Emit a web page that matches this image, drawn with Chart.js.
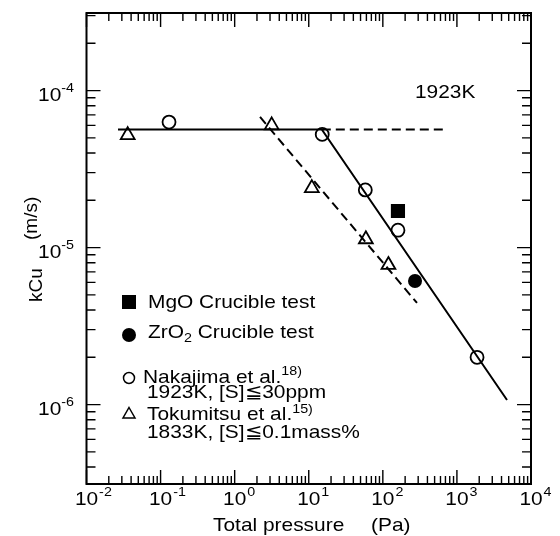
<!DOCTYPE html>
<html>
<head>
<meta charset="utf-8">
<title>kCu vs total pressure</title>
<script src="https://cdn.jsdelivr.net/npm/chart.js@4.4.1/dist/chart.umd.min.js"></script>
<style>
  html, body { margin: 0; padding: 0; background: #fff; }
  #wrap { width: 560px; height: 536px; }
</style>
</head>
<body>
<div id="wrap"><canvas id="chart_k" width="560" height="536"></canvas></div>
<script>
// axis decades (labels are drawn as 10 with a superscript exponent)
const xTicks = [1e-2, 1e-1, 1e0, 1e1, 1e2, 1e3, 1e4];
const xTickExp = ['-2', '-1', '0', '1', '2', '3', '4'];
const yTicks = [1e-4, 1e-5, 1e-6];
const yTickExp = ['-4', '-5', '-6'];

// Nakajima et al., 1923K (open circles)
const nakajimaP = [0.13, 15.2, 58, 160, 1870];
const nakajimaK = [6.3e-5, 5.26e-5, 2.33e-5, 1.29e-5, 2.0e-6];
// Tokumitsu et al., 1833K (open triangles)
const tokumitsuP = [0.036, 3.16, 11, 59, 119];
const tokumitsuK = [5.2e-5, 6.0e-5, 2.39e-5, 1.13e-5, 7.75e-6];
// this work
const mgoP = [160];
const mgoK = [1.71e-5];
const zro2P = [272];
const zro2K = [6.13e-6];

// guide lines
const solidP = [0.0266, 15, 4745];
const solidK = [5.65e-5, 5.65e-5, 1.07e-6];
const flatP = [15, 713];
const flatK = [5.65e-5, 5.65e-5];
const lowP = [2.2, 289];
const lowK = [6.79e-5, 4.44e-6];

const FAM = '"Liberation Sans", Arial, Helvetica, sans-serif';
const SX = 1.1; // glyphs a bit wider than plain Arial

function pts(xs, ys){
  return xs.map((x, i) => ({ x, y: ys[i] }));
}

function runWidth(ctx, runs){
  let w = 0;
  runs.forEach(r => {
    ctx.font = `${r.size}px ${FAM}`;
    w += ctx.measureText(r.t).width * (r.sx ?? SX);
  });
  return w;
}

function drawRuns(ctx, runs, x, y, align){
  const w = runWidth(ctx, runs);
  let cx = align === 'center' ? x - w / 2 : align === 'right' ? x - w : x;
  runs.forEach(r => {
    const sx = r.sx ?? SX;
    ctx.font = `${r.size}px ${FAM}`;
    const rw = ctx.measureText(r.t).width * sx;
    ctx.save();
    ctx.translate(cx, y + (r.dy || 0));
    ctx.scale(sx, 1);
    ctx.fillText(r.t, 0, 0);
    ctx.restore();
    cx += rw;
  });
}

function lineDs(xs, ys, dash){
  return {
    type: 'line',
    data: pts(xs, ys),
    borderColor: '#000',
    borderWidth: 2,
    borderDash: dash || [],
    pointRadius: 0,
    fill: false,
    tension: 0,
  };
}

const frame = {
  id: 'logFrame',
  afterDraw(chart){
    const { ctx, chartArea: a } = chart;
    const xs = chart.scales.x, ys = chart.scales.y;
    ctx.save();
    ctx.strokeStyle = '#000';
    ctx.fillStyle = '#000';
    ctx.textBaseline = 'alphabetic';

    // inward ticks on all four sides
    ctx.lineWidth = 1.4;
    ctx.beginPath();
    for (let d = -2; d <= 4; d++){
      for (let m = 1; m <= 9; m++){
        const v = m * Math.pow(10, d);
        if (v > xs.max * 1.001) break;
        const px = xs.getPixelForValue(v);
        const len = m === 1 ? 14 : 8;
        ctx.moveTo(px, a.bottom); ctx.lineTo(px, a.bottom - len);
        ctx.moveTo(px, a.top); ctx.lineTo(px, a.top + len);
      }
    }
    for (let d = -7; d <= -4; d++){
      for (let m = 1; m <= 9; m++){
        const v = m * Math.pow(10, d);
        if (v < ys.min || v > ys.max) continue;
        const py = ys.getPixelForValue(v);
        const len = m === 1 ? 14 : 9;
        ctx.moveTo(a.left, py); ctx.lineTo(a.left + len, py);
        ctx.moveTo(a.right, py); ctx.lineTo(a.right - len, py);
      }
    }
    ctx.stroke();
    ctx.lineWidth = 2;
    ctx.strokeRect(a.left, a.top, a.right - a.left, a.bottom - a.top);

    // x tick labels
    xTicks.forEach((v, i) => {
      const px = xs.getPixelForValue(v);
      ctx.font = `19px ${FAM}`;
      const w10 = ctx.measureText('10').width * SX;
      drawRuns(ctx, [{ t: '10', size: 19 }], px, 505, 'center');
      drawRuns(ctx, [{ t: xTickExp[i], size: 13 }], px + w10 / 2 + 1, 496, 'left');
    });
    // y tick labels
    yTicks.forEach((v, i) => {
      const py = ys.getPixelForValue(v);
      drawRuns(ctx, [
        { t: '10', size: 19 },
        { t: yTickExp[i], size: 13, dy: -9 },
      ], 74, py + 10, 'right');
    });

    // axis titles
    drawRuns(ctx, [{ t: 'Total pressure', size: 19 }], 213, 531, 'left');
    drawRuns(ctx, [{ t: '(Pa)', size: 19 }], 371, 531, 'left');
    ctx.save();
    ctx.translate(42, 302);
    ctx.rotate(-Math.PI / 2);
    drawRuns(ctx, [{ t: 'kCu', size: 19, sx: 1 }], 0, 0, 'left');
    ctx.restore();
    ctx.save();
    ctx.translate(37, 240);
    ctx.rotate(-Math.PI / 2);
    drawRuns(ctx, [{ t: '(m/s)', size: 19, sx: 1 }], 0, 0, 'left');
    ctx.restore();

    drawRuns(ctx, [{ t: '1923K', size: 19 }], 415, 98, 'left');

    // legend block
    ctx.fillRect(122, 295, 14, 14);
    drawRuns(ctx, [{ t: 'MgO Crucible test', size: 19 }], 148, 308, 'left');

    ctx.beginPath();
    ctx.arc(129, 335, 7, 0, Math.PI * 2);
    ctx.fill();
    drawRuns(ctx, [
      { t: 'ZrO', size: 19 },
      { t: '2', size: 13, dy: 4 },
      { t: ' Crucible test', size: 19 },
    ], 148, 338, 'left');

    ctx.lineWidth = 1.5;
    ctx.beginPath();
    ctx.arc(129, 378, 5.5, 0, Math.PI * 2);
    ctx.stroke();
    drawRuns(ctx, [
      { t: 'Nakajima et al.', size: 19 },
      { t: '18)', size: 13, dy: -8 },
    ], 143, 383, 'left');
    drawRuns(ctx, [{ t: '1923K, [S]≦30ppm', size: 19 }], 147, 398, 'left');

    ctx.beginPath();
    ctx.moveTo(129, 407.5);
    ctx.lineTo(135, 418);
    ctx.lineTo(123, 418);
    ctx.closePath();
    ctx.stroke();
    drawRuns(ctx, [
      { t: 'Tokumitsu et al.', size: 19 },
      { t: '15)', size: 13, dy: -7 },
    ], 147, 420, 'left');
    drawRuns(ctx, [{ t: '1833K, [S]≦0.1mass%', size: 19 }], 147, 438, 'left');

    ctx.restore();
  }
};

const ctx = document.getElementById('chart_k');
const chartK = new Chart(ctx, {
  type: 'scatter',
  data: {
    datasets: [
      lineDs(solidP, solidK),
      lineDs(flatP, flatK, [9, 5]),
      lineDs(lowP, lowK, [9, 5]),
      {
        label: 'Nakajima',
        data: pts(nakajimaP, nakajimaK),
        pointStyle: 'circle',
        pointRadius: 6.5,
        backgroundColor: '#fff',
        borderColor: '#000',
        borderWidth: 1.8,
      },
      {
        label: 'Tokumitsu',
        data: pts(tokumitsuP, tokumitsuK),
        pointStyle: 'triangle',
        pointRadius: 8,
        backgroundColor: '#fff',
        borderColor: '#000',
        borderWidth: 1.8,
      },
      {
        label: 'MgO',
        data: pts(mgoP, mgoK),
        pointStyle: 'rect',
        pointRadius: 10,
        backgroundColor: '#000',
        borderColor: '#000',
        borderWidth: 0,
      },
      {
        label: 'ZrO2',
        data: pts(zro2P, zro2K),
        pointStyle: 'circle',
        pointRadius: 7,
        backgroundColor: '#000',
        borderColor: '#000',
        borderWidth: 0,
      },
    ]
  },
  options: {
    responsive: false,
    devicePixelRatio: 1,
    animation: false,
    layout: { padding: { left: 86.5, top: 13, right: 29, bottom: 52 } },
    plugins: { legend: { display: false }, tooltip: { enabled: false } },
    scales: {
      x: { type: 'logarithmic', min: 1e-2, max: 1e4, display: false },
      y: { type: 'logarithmic', min: 3.12e-7, max: 3.12e-4, display: false },
    }
  },
  plugins: [frame]
});
</script>
</body>
</html>
